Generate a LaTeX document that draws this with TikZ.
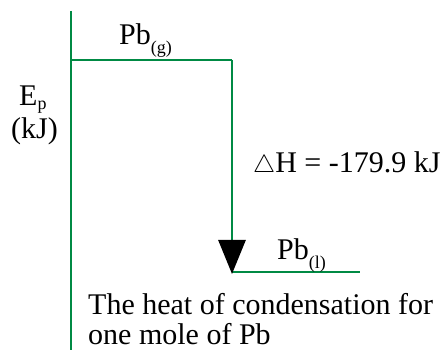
\documentclass[tikz,border=0pt]{standalone}
\usepackage{fontspec}
\setmainfont{Liberation Serif}
\usetikzlibrary{arrows.meta}
\definecolor{lvlgreen}{RGB}{0,138,68}
\newcommand{\lowsub}[2][-0.3em]{\raisebox{#1}{\fontsize{18}{18}\selectfont #2}}
\begin{document}
\begin{tikzpicture}[x=1pt,y=1pt,
  lvl/.style={draw=lvlgreen,line width=2.8pt},
  lbl/.style={anchor=base west,inner sep=0pt,font=\fontsize{30}{32}\selectfont}]
\useasboundingbox (0,0) rectangle (448,356);
% axis
\coordinate (axtop) at (71,345);
\coordinate (axbot) at (71,6);
\coordinate (topL) at (71,296);
\coordinate (topR) at (232,296);
\coordinate (botL) at (232,82);
\coordinate (botR) at (360,84);
\draw[lvl] (axtop) -- (axbot);
\draw[lvl] (topL) -- (topR);
\draw[lvl] (232,84) -- (botR);
\draw[lvl,-{Triangle[width=27pt,length=34pt,color=black,fill=black]}] (topR) -- (botL);
% labels
\node[lbl] (pbg) at (119,311) {Pb\lowsub{(g)}};
\node[lbl] (ep) at (19,250) {E\lowsub[-0.12em]{p}};
\node[lbl] (kj) at (11,217) {(kJ)};
\node[lbl] (dh) at (253,183) {$\bigtriangleup$H = -179.9 kJ};
\node[lbl] (pbl) at (277,96) {Pb\lowsub{(l)}};
\node[lbl] (cap1) at (88,41) {The heat of condensation for};
\node[lbl] (cap2) at (88,11) {one mole of Pb};
\end{tikzpicture}
\end{document}
